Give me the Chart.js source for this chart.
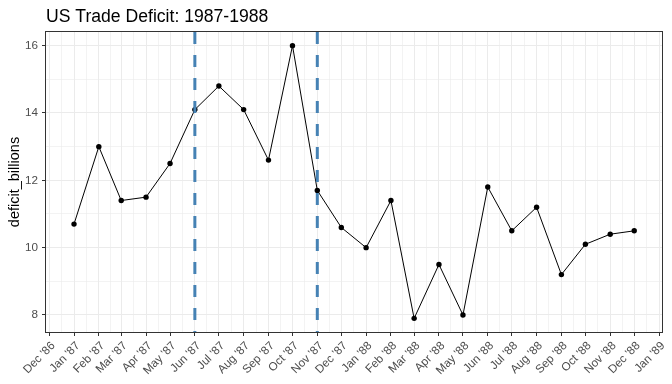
<!DOCTYPE html>
<html>
<head>
<meta charset="utf-8">
<script src="https://cdn.jsdelivr.net/npm/chart.js@4.4.1/dist/chart.umd.min.js"></script>
<style>
  html, body { margin: 0; background: #fff; }
  #wrap { width: 672px; height: 384px; position: relative; }
</style>
</head>
<body>
<div id="wrap"><canvas id="chart"></canvas></div>
<script>
const DATES = [
  "1987-01-01", "1987-02-01", "1987-03-01", "1987-04-01", "1987-05-01", "1987-06-01",
  "1987-07-01", "1987-08-01", "1987-09-01", "1987-10-01", "1987-11-01", "1987-12-01",
  "1988-01-01", "1988-02-01", "1988-03-01", "1988-04-01", "1988-05-01", "1988-06-01",
  "1988-07-01", "1988-08-01", "1988-09-01", "1988-10-01", "1988-11-01", "1988-12-01",
];
const DEFICIT = [
  10.7, 13.0, 11.4, 11.5, 12.5, 14.1,
  14.8, 14.1, 12.6, 16.0, 11.7, 10.6,
  10.0, 11.4, 7.9, 9.5, 8.0, 11.8,
  10.5, 11.2, 9.2, 10.1, 10.4, 10.5,
];
// first tick is Dec 1986, one per month
const TICK_LABELS = [
  "Dec '86", "Jan '87", "Feb '87", "Mar '87", "Apr '87", "May '87", "Jun '87",
  "Jul '87", "Aug '87", "Sep '87", "Oct '87", "Nov '87", "Dec '87",
  "Jan '88", "Feb '88", "Mar '88", "Apr '88", "May '88", "Jun '88",
  "Jul '88", "Aug '88", "Sep '88", "Oct '88", "Nov '88", "Dec '88", "Jan '89",
];
const Y_TICKS = [8, 10, 12, 14, 16];
const EVENT_DATES = ["1987-06-01", "1987-11-01"];

const DAY = 86400000;
const FONT = '"Liberation Sans", Arial, sans-serif';

function toDay(s) {
  return Date.parse(s + "T00:00:00Z") / DAY;
}

const xs = DATES.map(toDay);
const xSpan = xs[xs.length - 1] - xs[0];
const xMin = xs[0] - 0.05 * xSpan;
const xMax = xs[xs.length - 1] + 0.05 * xSpan;
const yLo = Math.min(...DEFICIT);
const yHi = Math.max(...DEFICIT);
const yMin = yLo - 0.05 * (yHi - yLo);
const yMax = yHi + 0.05 * (yHi - yLo);

function xTicks() {
  const major = TICK_LABELS.map((lbl, i) => ({
    value: Date.UTC(1986, 11 + i, 1) / DAY,
    lbl,
    minor: false,
  }));
  const minor = [];
  for (let i = 0; i < major.length - 1; i++) {
    minor.push({ value: (major[i].value + major[i + 1].value) / 2, lbl: "", minor: true });
  }
  return major.concat(minor).sort((a, b) => a.value - b.value);
}

function yTicks() {
  const out = [];
  for (let i = 0; i < Y_TICKS.length; i++) {
    out.push({ value: Y_TICKS[i], lbl: String(Y_TICKS[i]), minor: false });
    if (i < Y_TICKS.length - 1) {
      out.push({ value: (Y_TICKS[i] + Y_TICKS[i + 1]) / 2, lbl: "", minor: true });
    }
  }
  return out;
}

const gridOpts = {
  color: "#ebebeb",
  lineWidth: (ctx) => (ctx.tick && ctx.tick.minor ? 0.6 : 1),
  tickColor: (ctx) => (ctx.tick && ctx.tick.minor ? "rgba(0,0,0,0)" : "#333333"),
  tickLength: 4,
};

const frame = {
  id: "frame",
  afterDatasetsDraw(chart) {
    const { ctx, chartArea: a, scales } = chart;
    ctx.save();
    ctx.strokeStyle = "#4682b4";
    ctx.lineWidth = 3;
    ctx.setLineDash([12, 11]);
    for (const d of EVENT_DATES) {
      const px = scales.x.getPixelForValue(toDay(d));
      ctx.beginPath();
      ctx.moveTo(px, a.top);
      ctx.lineTo(px, a.bottom);
      ctx.stroke();
    }
    ctx.restore();
  },
  afterDraw(chart) {
    const { ctx, chartArea: a } = chart;
    ctx.save();
    ctx.strokeStyle = "#333333";
    ctx.lineWidth = 1;
    ctx.strokeRect(Math.round(a.left) - 0.5, Math.round(a.top) - 0.5,
      Math.round(a.right - a.left) + 1, Math.round(a.bottom - a.top) + 1);
    ctx.fillStyle = "#000";
    ctx.font = "17.6px " + FONT;
    ctx.textBaseline = "alphabetic";
    ctx.fillText("US Trade Deficit: 1987-1988", a.left, 22);
    ctx.restore();
  },
};

new Chart(document.getElementById("chart"), {
  type: "line",
  data: {
    datasets: [{
      data: xs.map((x, i) => ({ x, y: DEFICIT[i] })),
      borderColor: "#000",
      borderWidth: 1,
      backgroundColor: "#000",
      pointRadius: 2.7,
      pointBorderWidth: 0,
      pointHoverRadius: 2.7,
      tension: 0,
    }],
  },
  options: {
    responsive: true,
    maintainAspectRatio: false,
    animation: false,
    events: [],
    layout: { padding: { top: 32, right: 8, left: 0, bottom: 0 } },
    plugins: { legend: { display: false }, tooltip: { enabled: false } },
    scales: {
      x: {
        type: "linear",
        min: xMin,
        max: xMax,
        bounds: "data",
        afterBuildTicks: (scale) => { scale.ticks = xTicks(); },
        afterFit: (scale) => { scale.height = 52; },
        grid: gridOpts,
        border: { display: false },
        ticks: {
          autoSkip: false,
          minRotation: 45,
          maxRotation: 45,
          padding: 3,
          labelOffset: 4,
          color: "#4d4d4d",
          font: { family: FONT, size: 11.7 },
          callback: (v, i, ticks) => ticks[i].lbl,
        },
      },
      y: {
        type: "linear",
        min: yMin,
        max: yMax,
        bounds: "data",
        afterBuildTicks: (scale) => { scale.ticks = yTicks(); },
        afterFit: (scale) => { scale.width = 46; },
        grid: gridOpts,
        border: { display: false },
        title: {
          display: true,
          text: "deficit_billions",
          color: "#000",
          font: { family: FONT, size: 14.5 },
          padding: { top: 6, bottom: 0 },
        },
        ticks: {
          autoSkip: false,
          padding: 4,
          color: "#4d4d4d",
          font: { family: FONT, size: 11.7 },
          callback: (v, i, ticks) => ticks[i].lbl,
        },
      },
    },
  },
  plugins: [frame],
});
</script>
</body>
</html>
